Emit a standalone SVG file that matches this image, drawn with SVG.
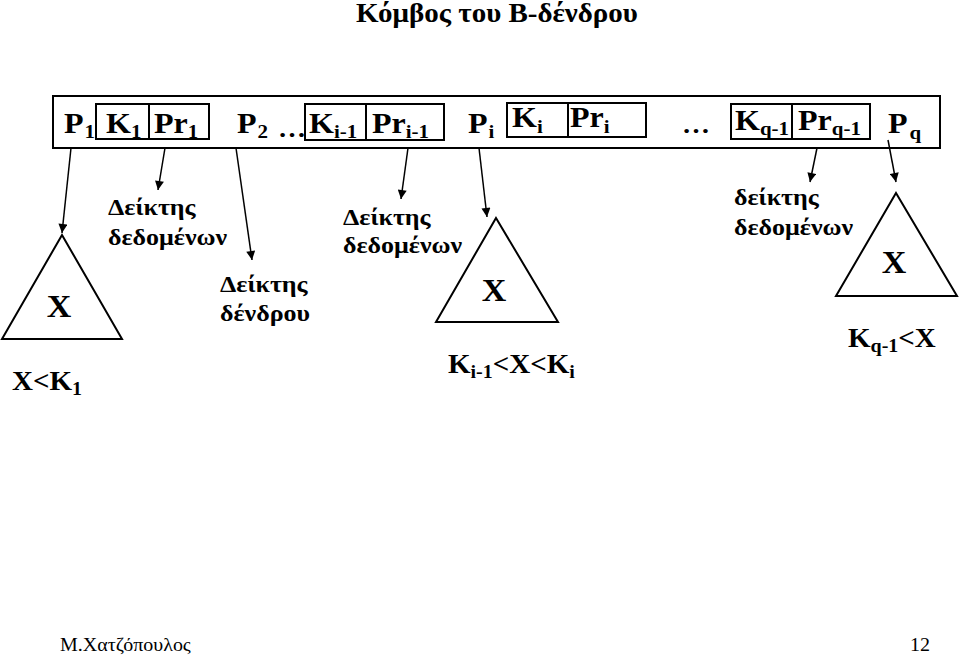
<svg xmlns="http://www.w3.org/2000/svg" width="960" height="657" viewBox="0 0 960 657">
<style>
text{font-family:"Liberation Serif","Times New Roman",serif;fill:#000}
.b{font-weight:bold}
.m{font-size:32px}
.s{font-size:21px}
.el{font-size:28px;font-weight:bold}
.lbl{font-size:26px;font-weight:bold}
.box{fill:none;stroke:#000;stroke-width:2}
.tri{fill:none;stroke:#000;stroke-width:2}
.con{stroke:#000;stroke-width:1.5;fill:none;marker-end:url(#ah)}
</style>
<defs>
<marker id="ah" viewBox="0 0 10 10" refX="10" refY="5" markerWidth="7" markerHeight="6" markerUnits="strokeWidth" orient="auto">
<path d="M0,0 L10,5 L0,10 z" fill="#000"/>
</marker>
</defs>
<rect width="960" height="657" fill="#fff"/>
<text class="b" font-size="29" text-anchor="middle" transform="translate(497 22) scale(1 .9125)">Κόμβος του Β-δένδρου</text>

<g id="node">
<rect class="box" x="53" y="96" width="887" height="52"/>
<g id="p1"><text class="b m" transform="translate(64 133) scale(1 .9125)">P<tspan class="s" dx="1" dy="6">1</tspan></text></g>
<g id="k1pr1">
<rect class="box" x="96" y="104" width="113" height="35"/>
<line x1="149" y1="104" x2="149" y2="139" stroke="#000" stroke-width="2"/>
<text class="b m" transform="translate(106 133) scale(1 .9125)">K<tspan class="s" dy="6">1</tspan></text>
<text class="b m" transform="translate(154 133) scale(1 .9125)">Pr<tspan class="s" dy="6">1</tspan></text>
</g>
<g id="p2"><text class="b m" transform="translate(237 133) scale(1 .9125)">P<tspan class="s" dx="1" dy="6">2</tspan></text></g>
<text class="el" transform="translate(278 137) scale(1 .9125)">…</text>
<g id="ki1pri1">
<rect class="box" x="305" y="104" width="139" height="36"/>
<line x1="366" y1="104" x2="366" y2="140" stroke="#000" stroke-width="2"/>
<text class="b m" transform="translate(309 133) scale(1 .9125)">K<tspan class="s" dy="6">i-1</tspan></text>
<text class="b m" transform="translate(372 133) scale(1 .9125)">Pr<tspan class="s" dy="6">i-1</tspan></text>
</g>
<g id="pi"><text class="b m" transform="translate(468 133) scale(1 .9125)">P<tspan class="s" dx="1" dy="6">i</tspan></text></g>
<g id="kipri">
<rect class="box" x="507" y="103" width="139" height="34"/>
<line x1="568" y1="103" x2="568" y2="137" stroke="#000" stroke-width="2"/>
<text class="b m" transform="translate(512 127) scale(1 .9125)">K<tspan class="s" dy="7">i</tspan></text>
<text class="b m" transform="translate(570 127) scale(1 .9125)">Pr<tspan class="s" dy="7">i</tspan></text>
</g>
<text class="el" transform="translate(682 133) scale(1 .9125)">…</text>
<g id="kq1prq1">
<rect class="box" x="731" y="104" width="139" height="35"/>
<line x1="792" y1="104" x2="792" y2="139" stroke="#000" stroke-width="2"/>
<text class="b m" transform="translate(735 130) scale(1 .9125)">K<tspan class="s" dy="6">q-1</tspan></text>
<text class="b m" transform="translate(798 130) scale(1 .9125)">Pr<tspan class="s" dy="6">q-1</tspan></text>
</g>
<g id="pq"><text class="b m" transform="translate(888 133) scale(1 .9125)">P<tspan class="s" dx="2" dy="7">q</tspan></text></g>
</g>

<g id="connectors">
<line class="con" x1="71" y1="148" x2="62" y2="233"/>
<line class="con" x1="165" y1="148" x2="158" y2="190"/>
<line class="con" x1="236" y1="148" x2="252" y2="260"/>
<line class="con" x1="408" y1="148" x2="401" y2="199"/>
<line class="con" x1="479" y1="148" x2="487" y2="217"/>
<line class="con" x1="817" y1="148" x2="810" y2="182"/>
<line class="con" x1="888" y1="140" x2="896" y2="182"/>
</g>

<g id="tree1">
<polygon class="tri" points="62,235 122,339 2,339"/>
<text class="b" font-size="34" text-anchor="middle" transform="translate(59 317) scale(1 .9125)">X</text>
<text class="b" font-size="29" transform="translate(12 390) scale(1 .9125)">X&lt;K<tspan font-size="20" dy="6">1</tspan></text>
</g>
<g id="data1">
<text class="lbl" transform="translate(108 215) scale(1 .9125)">Δείκτης</text>
<text class="lbl" transform="translate(108 245) scale(1 .9125)">δεδομένων</text>
</g>
<g id="treeptr">
<text class="lbl" transform="translate(220 292) scale(1 .9125)">Δείκτης</text>
<text class="lbl" transform="translate(220 321) scale(1 .9125)">δένδρου</text>
</g>
<g id="data2">
<text class="lbl" transform="translate(343 225) scale(1 .9125)">Δείκτης</text>
<text class="lbl" transform="translate(343 253) scale(1 .9125)">δεδομένων</text>
</g>
<g id="tree2">
<polygon class="tri" points="496,218 558,322 436,322"/>
<text class="b" font-size="34" text-anchor="middle" transform="translate(494 301) scale(1 .9125)">X</text>
<text class="b" font-size="29" transform="translate(448 373) scale(1 .9125)">K<tspan font-size="20" dy="6">i-1</tspan><tspan dy="-6">&lt;X&lt;K</tspan><tspan font-size="20" dy="6">i</tspan></text>
</g>
<g id="data3">
<text class="lbl" transform="translate(734 205) scale(1 .9125)">δείκτης</text>
<text class="lbl" transform="translate(734 235) scale(1 .9125)">δεδομένων</text>
</g>
<g id="tree3">
<polygon class="tri" points="896,193 957,296 836,296"/>
<text class="b" font-size="34" text-anchor="middle" transform="translate(894 273) scale(1 .9125)">X</text>
<text class="b" font-size="29" transform="translate(848 347) scale(1 .9125)">K<tspan font-size="20" dy="6">q-1</tspan><tspan dy="-6">&lt;X</tspan></text>
</g>

<text font-size="20" transform="translate(60 651) scale(1 .9125)">Μ.Χατζόπουλος</text>
<text font-size="20" text-anchor="end" transform="translate(930 651) scale(1 .9125)">12</text>
</svg>
